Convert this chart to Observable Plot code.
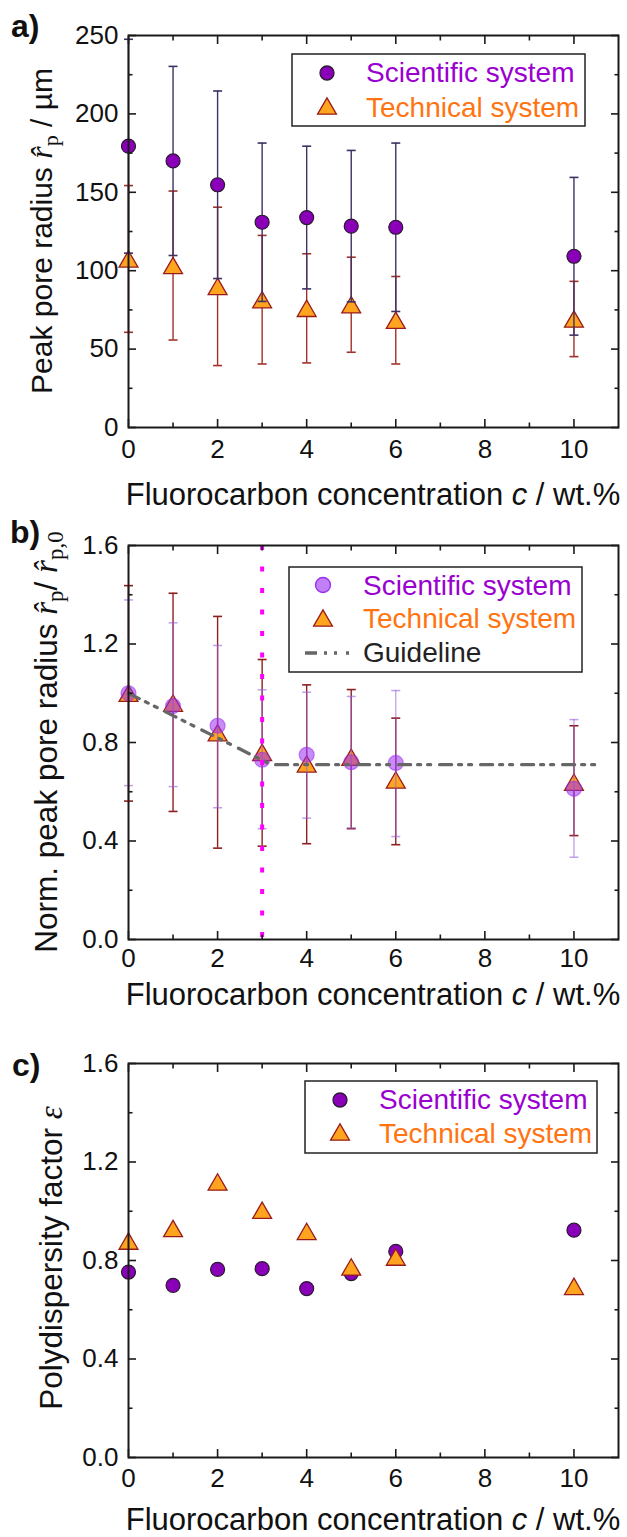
<!DOCTYPE html>
<html><head><meta charset="utf-8">
<script src="https://cdn.jsdelivr.net/npm/d3@7"></script>
<script src="https://cdn.jsdelivr.net/npm/@observablehq/plot@0.6"></script>
<style>
html,body{margin:0;padding:0;background:#fff;}
#chart{width:627px;height:1537px;position:relative;overflow:hidden;}
#chart svg{display:block;}
</style></head><body><div id="chart"></div>
<script>
// ---------- data ----------
const conc = [0, 1, 2, 3, 4, 5, 6, 10];
const xMajor = [0, 2, 4, 6, 8, 10];
const xMinor = [1, 3, 5, 7, 9];
// panel a: peak pore radius (µm) with symmetric errors
const sciRadius    = [179.4, 170.0, 154.8, 130.9, 133.9, 128.4, 127.7, 109.2];
const sciRadiusErr = [68.2, 60.3, 59.8, 50.5, 45.5, 48.3, 53.7, 50.3];
const techRadius    = [107.5, 103.3, 90.0, 81.5, 76.0, 78.3, 68.4, 69.2];
const techRadiusErr = [46.8, 47.5, 50.5, 41.0, 34.8, 30.3, 27.9, 24.0];
const yMajorA = [0, 50, 100, 150, 200, 250];
const yMinorA = [25, 75, 125, 175, 225];
// panel b: normalized peak pore radius
const sciNorm   = [1.0, 0.948, 0.868, 0.730, 0.750, 0.720, 0.717, 0.612];
const sciNormLo = [0.625, 0.621, 0.535, 0.450, 0.493, 0.453, 0.418, 0.334];
const sciNormHi = [1.379, 1.286, 1.194, 1.014, 1.004, 0.987, 1.011, 0.893];
const techNorm   = [1.0, 0.960, 0.840, 0.760, 0.713, 0.740, 0.648, 0.639];
const techNormLo = [0.562, 0.520, 0.371, 0.379, 0.389, 0.450, 0.385, 0.422];
const techNormHi = [1.437, 1.406, 1.312, 1.137, 1.034, 1.015, 0.899, 0.868];
const guideX = [0, 3.2, 10.65];
const guideY = [1.0, 0.71, 0.71];
const markerConc = [3];
// panel c: polydispersity factor
const sciPoly  = [0.753, 0.699, 0.764, 0.767, 0.686, 0.747, 0.837, 0.923];
const techPoly = [0.879, 0.930, 1.119, 1.004, 0.918, 0.774, 0.814, 0.695];
const yMajorBC = [0, 0.4, 0.8, 1.2, 1.6];
const yMinorBC = [0.2, 0.6, 1.0, 1.4];

// ---------- styles ----------
const FONT = "'Liberation Sans', Arial, Helvetica, sans-serif";
const SERIF = "'Liberation Serif', 'DejaVu Serif', 'Times New Roman', serif";
const SCI_FILL = "#8a00b8", TECH_FILL = "#ffa41f", TECH_STROKE = "#981c1c";
const SCI_TXT = "#9a00d0", TECH_TXT = "#ff7410";
const W = 627, ML = 128, MR = 9;

const capSym = {draw(ctx, size) {const w = Math.sqrt(size / Math.PI); ctx.moveTo(-w, 0); ctx.lineTo(w, 0);}};
const triSym = {draw(ctx, size) {const r = Math.sqrt(size / Math.PI); const a = r * 1.35, h = a * Math.sqrt(3);
  ctx.moveTo(0, -h / 2); ctx.lineTo(a, h / 2); ctx.lineTo(-a, h / 2); ctx.closePath();}};

function frameAxes(yMajor, yMinor, yFmt, xPad) {
  const tk = {stroke: "#1a1a1a", strokeWidth: 1.6, label: null, tickFormat: () => ""};
  return [
    Plot.frame({stroke: "#1a1a1a", strokeWidth: 2}),
    Plot.axisX({...tk, anchor: "bottom", ticks: xMajor, tickSize: 8, dy: -8}),
    Plot.axisX({...tk, anchor: "bottom", ticks: xMinor, tickSize: 4.5, dy: -4.5}),
    Plot.axisX({...tk, anchor: "top", ticks: xMajor, tickSize: 8, dy: 8}),
    Plot.axisX({...tk, anchor: "top", ticks: xMinor, tickSize: 4.5, dy: 4.5}),
    Plot.axisY({...tk, anchor: "left", ticks: yMajor, tickSize: 8, dx: 8}),
    Plot.axisY({...tk, anchor: "left", ticks: yMinor, tickSize: 4.5, dx: 4.5}),
    Plot.axisY({...tk, anchor: "right", ticks: yMajor, tickSize: 8, dx: -8}),
    Plot.axisY({...tk, anchor: "right", ticks: yMinor, tickSize: 4.5, dx: -4.5}),
    Plot.axisX({anchor: "bottom", ticks: xMajor, tickSize: 0, tickPadding: xPad, fontSize: 26, label: null, tickFormat: d => String(d)}),
    Plot.axisY({anchor: "left", ticks: yMajor, tickSize: 0, tickPadding: 10, fontSize: 26, label: null, tickFormat: yFmt})
  ];
}

function makePlot(height, mt, mb, yDomain, marks) {
  return Plot.plot({
    width: W, height, marginLeft: ML, marginRight: MR, marginTop: mt, marginBottom: mb,
    x: {domain: [0, 11]}, y: {domain: yDomain},
    style: {fontFamily: FONT, color: "#111", background: "#fff", overflow: "visible"},
    marks
  });
}

function addText(svg, x, y, parts, {rotate = false, size = 29, anchor = "middle", weight = "normal"} = {}) {
  const t = d3.select(svg).append("text")
    .attr("transform", rotate ? `translate(${x},${y}) rotate(-90)` : `translate(${x},${y})`)
    .attr("text-anchor", anchor).attr("font-family", FONT).attr("font-size", size)
    .attr("font-weight", weight).attr("fill", "#111");
  for (const p of parts) {
    const ts = t.append("tspan").text(p.t);
    if (p.serif) ts.attr("font-family", SERIF);
    if (p.it) ts.attr("font-style", "italic");
    if (p.fs) ts.attr("font-size", p.fs);
    if (p.dy) ts.attr("dy", p.dy);
    if (p.fill) ts.attr("fill", p.fill);
  }
}

function addLegend(svg, box, items) {
  const g = d3.select(svg).append("g");
  g.append("rect").attr("x", box.x).attr("y", box.y).attr("width", box.w).attr("height", box.h)
    .attr("fill", "#fff").attr("stroke", "#222").attr("stroke-width", 1.5);
  for (const it of items) {
    if (it.kind === "line") {
      g.append("line").attr("x1", it.sx - 22).attr("x2", it.sx + 22).attr("y1", it.sy).attr("y2", it.sy)
        .attr("stroke", "#666").attr("stroke-width", 3.3).attr("stroke-dasharray", "12,7,3,7,3,9");
    } else {
      const sym = it.kind === "circle" ? d3.symbolCircle : triSym;
      g.append("path").attr("transform", `translate(${it.sx},${it.sy})`)
        .attr("d", d3.symbol(sym, Math.PI * it.r * it.r)())
        .attr("fill", it.fill).attr("fill-opacity", it.fo ?? 1)
        .attr("stroke", it.stroke).attr("stroke-width", 1.3);
    }
    g.append("text").attr("x", box.tx).attr("y", it.ty).attr("text-anchor", "start")
      .attr("font-family", FONT).attr("font-size", 28)
      .attr("fill", it.color).text(it.label);
  }
}

const xTitle = [{t: "Fluorocarbon concentration "}, {t: "c", it: true}, {t: " / wt.%"}];
const chart = document.getElementById("chart");

// ---------- panel a ----------
const dataA = conc.map((c, i) => ({c,
  s: sciRadius[i], sLo: sciRadius[i] - sciRadiusErr[i], sHi: sciRadius[i] + sciRadiusErr[i],
  t: techRadius[i], tLo: techRadius[i] - techRadiusErr[i], tHi: techRadius[i] + techRadiusErr[i]}));
const svgA = makePlot(515, 35, 88, [0, 250], [
  Plot.ruleX(dataA, {x: "c", y1: "tLo", y2: "tHi", stroke: "#a3302a", strokeWidth: 1.4}),
  Plot.dot(dataA, {x: "c", y: "tLo", symbol: capSym, r: 4.5, stroke: "#a3302a", strokeWidth: 1.6}),
  Plot.dot(dataA, {x: "c", y: "tHi", symbol: capSym, r: 4.5, stroke: "#a3302a", strokeWidth: 1.6}),
  Plot.dot(dataA, {x: "c", y: "t", symbol: triSym, r: 7, fill: TECH_FILL, stroke: TECH_STROKE, strokeWidth: 1.3}),
  Plot.ruleX(dataA, {x: "c", y1: "sLo", y2: "sHi", stroke: "#3f3163", strokeWidth: 1.4}),
  Plot.dot(dataA, {x: "c", y: "sLo", symbol: capSym, r: 4.5, stroke: "#3f3163", strokeWidth: 1.6}),
  Plot.dot(dataA, {x: "c", y: "sHi", symbol: capSym, r: 4.5, stroke: "#3f3163", strokeWidth: 1.6}),
  Plot.dot(dataA, {x: "c", y: "s", symbol: "circle", r: 7, fill: SCI_FILL, stroke: "#2a1a30", strokeWidth: 1.2}),
  ...frameAxes(yMajorA, yMinorA, d => String(d), 12)
]);
chart.appendChild(svgA);
addText(svgA, 11, 37, [{t: "a)"}], {size: 32, anchor: "start", weight: "bold"});
addText(svgA, 52, 231, [{t: "Peak pore radius "}, {t: "r\u0302", serif: true, it: true, fs: 32},
  {t: "p", serif: true, fs: 22, dy: 6}, {t: " / µm", dy: -6}], {rotate: true, size: 30});
addText(svgA, 373, 505, xTitle, {size: 31});
addLegend(svgA, {x: 292, y: 54, w: 293, h: 72, tx: 366}, [
  {kind: "circle", sx: 327, sy: 73, r: 7, fill: SCI_FILL, stroke: "#2a1a30", ty: 82, color: SCI_TXT, label: "Scientific system"},
  {kind: "tri", sx: 327, sy: 106, r: 7, fill: TECH_FILL, stroke: TECH_STROKE, ty: 117, color: TECH_TXT, label: "Technical system"}
]);

// ---------- panel b ----------
const dataB = conc.map((c, i) => ({c,
  s: sciNorm[i], sLo: sciNormLo[i], sHi: sciNormHi[i],
  t: techNorm[i], tLo: techNormLo[i], tHi: techNormHi[i]}));
const guide = guideX.map((x, i) => ({x, y: guideY[i]}));
const svgB = makePlot(515, 30, 91, [0, 1.6], [
  Plot.ruleX(dataB, {x: "c", y1: "tLo", y2: "tHi", stroke: "#8e1f1f", strokeWidth: 1.4}),
  Plot.dot(dataB, {x: "c", y: "tLo", symbol: capSym, r: 4.5, stroke: "#8e1f1f", strokeWidth: 1.6}),
  Plot.dot(dataB, {x: "c", y: "tHi", symbol: capSym, r: 4.5, stroke: "#8e1f1f", strokeWidth: 1.6}),
  Plot.dot(dataB, {x: "c", y: "t", symbol: triSym, r: 7, fill: TECH_FILL, stroke: TECH_STROKE, strokeWidth: 1.3}),
  Plot.ruleX(dataB, {x: "c", y1: "sLo", y2: "sHi", stroke: "#9a5fd8", strokeOpacity: 0.6, strokeWidth: 1.3}),
  Plot.dot(dataB, {x: "c", y: "sLo", symbol: capSym, r: 4.5, stroke: "#9a5fd8", strokeOpacity: 0.6, strokeWidth: 1.5}),
  Plot.dot(dataB, {x: "c", y: "sHi", symbol: capSym, r: 4.5, stroke: "#9a5fd8", strokeOpacity: 0.6, strokeWidth: 1.5}),
  Plot.dot(dataB, {x: "c", y: "s", symbol: "circle", r: 7.5, fill: "#9a2cf0", fillOpacity: 0.55, stroke: "#9a2cf0", strokeOpacity: 0.55, strokeWidth: 1.2}),
  Plot.line(guide, {x: "x", y: "y", stroke: "#676767", strokeWidth: 3.3, strokeDasharray: "12,7,3,7,3,9"}),
  Plot.ruleX(markerConc, {x: d => d, stroke: "#ff00ff", strokeWidth: 4, strokeDasharray: "5,16.5"}),
  ...frameAxes(yMajorBC, yMinorBC, d3.format(".1f"), 9)
]);
chart.appendChild(svgB);
addText(svgB, 10, 28, [{t: "b)"}], {size: 32, anchor: "start", weight: "bold"});
addText(svgB, 57, 227, [{t: "Norm. peak pore radius "}, {t: "r\u0302", serif: true, it: true, fs: 33},
  {t: "p", serif: true, fs: 23, dy: 6}, {t: "/ ", dy: -6}, {t: "r\u0302", serif: true, it: true, fs: 33},
  {t: "p,0", serif: true, fs: 23, dy: 6}], {rotate: true, size: 31.5});
addText(svgB, 373, 490, xTitle, {size: 31});
addLegend(svgB, {x: 289, y: 52, w: 293, h: 105, tx: 363}, [
  {kind: "circle", sx: 323, sy: 70, r: 7.5, fill: "#9a2cf0", fo: 0.6, stroke: "#9a2cf0", ty: 80, color: SCI_TXT, label: "Scientific system"},
  {kind: "tri", sx: 323, sy: 103, r: 7, fill: TECH_FILL, stroke: TECH_STROKE, ty: 113, color: TECH_TXT, label: "Technical system"},
  {kind: "line", sx: 327, sy: 138, ty: 147, color: "#222", label: "Guideline"}
]);

// ---------- panel c ----------
const dataC = conc.map((c, i) => ({c, s: sciPoly[i], t: techPoly[i]}));
const svgC = makePlot(507, 33, 80, [0, 1.6], [
  Plot.dot(dataC, {x: "c", y: "s", symbol: "circle", r: 7, fill: SCI_FILL, stroke: "#2a1a30", strokeWidth: 1.2}),
  Plot.dot(dataC, {x: "c", y: "t", symbol: triSym, r: 7, fill: TECH_FILL, stroke: TECH_STROKE, strokeWidth: 1.3}),
  ...frameAxes(yMajorBC, yMinorBC, d3.format(".1f"), 11)
]);
chart.appendChild(svgC);
addText(svgC, 12, 46, [{t: "c)"}], {size: 32, anchor: "start", weight: "bold"});
addText(svgC, 62, 228, [{t: "Polydispersity factor "}, {t: "\u03b5", serif: true, it: true, fs: 33}], {rotate: true, size: 31.5});
addText(svgC, 373, 500, xTitle, {size: 31});
addLegend(svgC, {x: 305, y: 51, w: 292, h: 72, tx: 379}, [
  {kind: "circle", sx: 340, sy: 70, r: 7, fill: SCI_FILL, stroke: "#2a1a30", ty: 79, color: SCI_TXT, label: "Scientific system"},
  {kind: "tri", sx: 340, sy: 102, r: 7, fill: TECH_FILL, stroke: TECH_STROKE, ty: 113, color: TECH_TXT, label: "Technical system"}
]);
</script></body></html>
